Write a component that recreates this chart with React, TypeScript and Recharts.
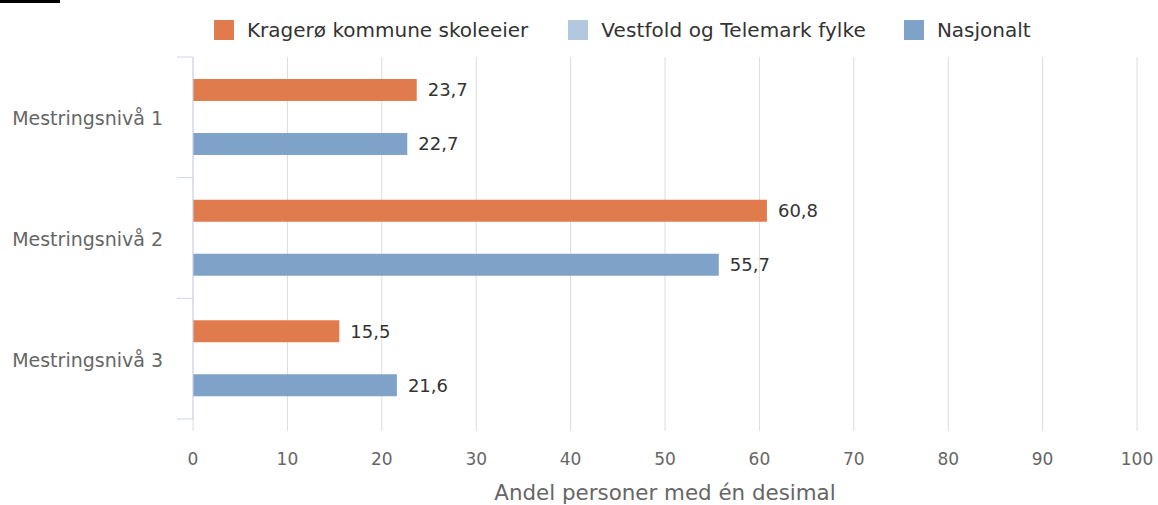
import React from "react";
import { BarChart, Bar, XAxis, YAxis, CartesianGrid, LabelList } from "recharts";

const categories = ["Mestringsnivå 1", "Mestringsnivå 2", "Mestringsnivå 3"];
const kragero = [23.7, 60.8, 15.5];
const vestfold: (number | null)[] = [null, null, null];
const nasjonalt = [22.7, 55.7, 21.6];
const xTicks = [0, 10, 20, 30, 40, 50, 60, 70, 80, 90, 100];

const series = [
  { key: "kragero", name: "Kragerø kommune skoleeier", color: "#e07b4e" },
  { key: "vestfold", name: "Vestfold og Telemark fylke", color: "#b2c8de" },
  { key: "nasjonalt", name: "Nasjonalt", color: "#7fa3c8" },
];

const data = categories.map((c, i) => ({
  category: c,
  kragero: kragero[i],
  vestfold: vestfold[i],
  nasjonalt: nasjonalt[i],
}));

const FONT = "'DejaVu Sans', Verdana, sans-serif";
const fmt = (v: any) => (v == null ? "" : Number(v).toFixed(1).replace(".", ","));

function CategoryTick(props: any) {
  const { x, y, payload, index } = props;
  const half = payload?.offset || 60.33;
  return (
    <g>
      <line x1={x + 14} x2={x + 30} y1={y - half} y2={y - half} stroke="#ccd6eb" />
      {index === categories.length - 1 && (
        <line x1={x + 14} x2={x + 30} y1={y + half} y2={y + half} stroke="#ccd6eb" />
      )}
      <text x={x} y={y} dy={8} textAnchor="end" fontSize={19} fill="#666" fontFamily={FONT}>
        {payload.value}
      </text>
    </g>
  );
}

function AxisTitle(props: any) {
  const vb = props.viewBox;
  return (
    <text x={vb.x + vb.width / 2} y={vb.y + 81} textAnchor="middle" fontSize={21.4} fill="#666" fontFamily={FONT}>
      Andel personer med én desimal
    </text>
  );
}

export default function App() {
  return (
    <div style={{ position: "absolute", left: 0, top: 0, width: 1158, height: 505, background: "#fff" }}>
      <div style={{ position: "absolute", left: 0, top: 0, width: 60, height: 3, background: "#000" }} />
      <div
        style={{
          position: "absolute",
          left: 214,
          top: 18,
          display: "flex",
          alignItems: "center",
          fontFamily: FONT,
          fontSize: 20,
          color: "#333",
          whiteSpace: "nowrap",
        }}
      >
        {series.map((s, i) => (
          <div key={s.key} style={{ display: "flex", alignItems: "center", marginRight: i === 0 ? 40 : i === 1 ? 38 : 0 }}>
            <span style={{ width: 20, height: 20, background: s.color, display: "inline-block", marginRight: 13 }} />
            <span style={{ letterSpacing: i === 1 ? 0.1 : 0 }}>{s.name}</span>
          </div>
        ))}
      </div>
      <BarChart
        width={1158}
        height={505}
        data={data}
        layout="vertical"
        margin={{ top: 57, right: 21, left: 0, bottom: 0 }}
        barSize={22}
        barGap={5}
      >
        <CartesianGrid horizontal={false} stroke="#dcdcdc" />
        <XAxis
          type="number"
          domain={[0, 100]}
          ticks={xTicks}
          height={86}
          axisLine={false}
          tickLine={{ stroke: "#dcdcdc" }}
          tickSize={12}
          tickMargin={22}
          tick={{ fontSize: 17, fill: "#666", fontFamily: FONT }}
          label={<AxisTitle />}
        />
        <YAxis
          type="category"
          dataKey="category"
          width={193}
          axisLine={{ stroke: "#ccd6eb" }}
          tickLine={false}
          tickSize={0}
          tickMargin={30}
          tick={<CategoryTick />}
        />
        {series.map((s) => (
          <Bar key={s.key} dataKey={s.key} name={s.name} fill={s.color} isAnimationActive={false}>
            <LabelList
              dataKey={s.key}
              position="right"
              offset={11}
              formatter={fmt}
              style={{ fontSize: 18, fill: "#333", fontFamily: FONT }}
            />
          </Bar>
        ))}
      </BarChart>
    </div>
  );
}
